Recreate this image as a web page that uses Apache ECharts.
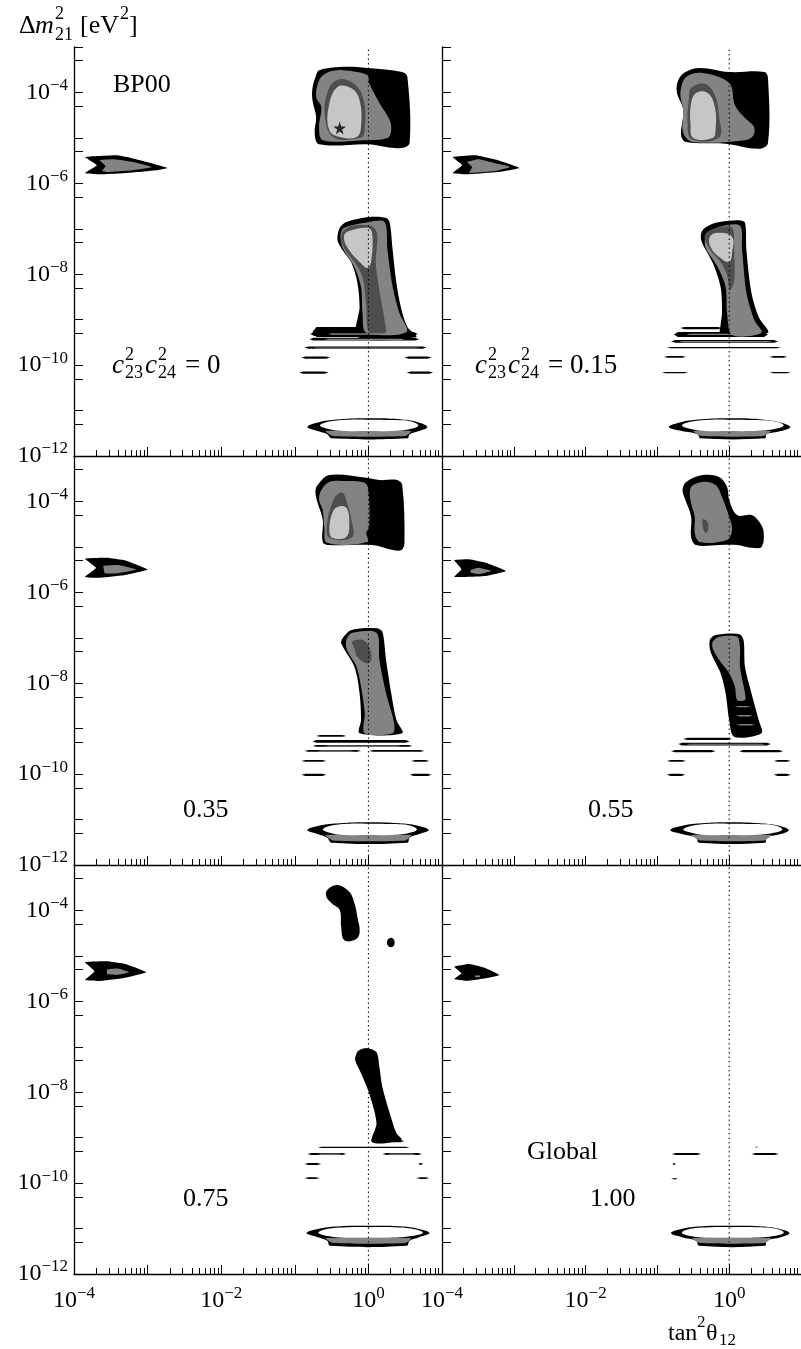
<!DOCTYPE html>
<html><head><meta charset="utf-8">
<script src="https://cdn.jsdelivr.net/npm/echarts@6/dist/echarts.min.js"></script>
<style>html,body{margin:0;padding:0;background:#fff}#c{width:801px;height:1349px}</style>
</head><body><div id="c"></div>
<script>
// ---------- axis ticks & labels (log10 units) ----------
const X_MAJOR_TICKS = [-4, -3, -2, -1, 0, 1];
const X_MINOR_MULT = [2, 3, 4, 5, 6, 7, 8, 9];
const X_DECADES = [-4, -3, -2, -1, 0];
const Y_DECADES = [-12, -11, -10, -9, -8, -7, -6, -5, -4];
const Y_TOP = -3;
const Y_LABELS = [-12, -10, -8, -6, -4];
const X_LABELS = [-4, -2, 0];
const PANEL_NOTES = ['0', '0.15', '0.35', '0.55', '0.75', '1.00'];

// ---------- contour data: [log10 tan^2(theta12), log10 dm^2] ----------
// Panel 1 : c23^2 c24^2 = 0 (BP00)
const p1_sma_k = [[-3.85,-5.42],[-3.42,-5.38],[-3.28,-5.42],[-3.01,-5.53],[-2.73,-5.66],[-2.88,-5.71],[-3.28,-5.77],[-3.65,-5.80],[-3.85,-5.77],[-3.69,-5.60]];
const p1_sma_g = [[-3.65,-5.49],[-3.45,-5.47],[-3.20,-5.53],[-2.94,-5.64],[-3.20,-5.71],[-3.56,-5.75],[-3.62,-5.73],[-3.57,-5.62]];
const p1_lma_k = [[-0.67,-3.51],[-0.39,-3.44],[-0.01,-3.46],[0.46,-3.55],[0.53,-3.66],[0.56,-5.11],[0.45,-5.22],[0.24,-5.20],[0.01,-5.14],[-0.67,-5.14],[-0.73,-4.89],[-0.71,-4.54],[-0.76,-4.17],[-0.76,-3.90],[-0.71,-3.62]];
const p1_lma_g = [[-0.57,-3.57],[-0.35,-3.51],[-0.01,-3.62],[0.01,-3.79],[0.15,-4.23],[0.29,-4.61],[0.31,-4.83],[0.26,-5.00],[-0.08,-5.05],[-0.62,-5.05],[-0.67,-4.76],[-0.64,-4.32],[-0.71,-4.10],[-0.67,-3.73]];
const p1_lma_d = [[-0.42,-3.72],[-0.22,-3.78],[-0.07,-4.12],[-0.05,-4.83],[-0.10,-4.99],[-0.47,-4.99],[-0.59,-4.54],[-0.55,-3.97]];
const p1_lma_l = [[-0.42,-3.88],[-0.23,-3.91],[-0.12,-4.17],[-0.10,-4.76],[-0.16,-4.98],[-0.39,-4.98],[-0.53,-4.83],[-0.54,-4.32]];
const p1_best = [[-0.39,-4.78]];
const p1_low_k = [[-0.39,-6.98],[-0.30,-6.85],[0.01,-6.74],[0.24,-6.76],[0.29,-6.87],[0.33,-7.47],[0.38,-8.19],[0.45,-8.79],[0.53,-9.16],[0.65,-9.38],[-0.15,-9.38],[-0.12,-8.72],[-0.15,-8.19],[-0.23,-7.75],[-0.35,-7.47],[-0.42,-7.25]];
const p1_low_g = [[-0.33,-6.98],[0.01,-6.85],[0.22,-6.85],[0.26,-7.47],[0.33,-8.28],[0.42,-8.85],[0.52,-9.27],[-0.03,-9.29],[-0.08,-8.85],[-0.10,-8.28],[-0.19,-7.84],[-0.35,-7.42],[-0.38,-7.14]];
const p1_low_d = [[-0.35,-7.07],[-0.23,-6.94],[0.04,-6.94],[0.12,-7.12],[0.10,-7.73],[0.15,-8.35],[0.22,-9.01],[0.23,-9.29],[0.01,-9.29],[-0.03,-8.68],[-0.07,-8.13],[-0.15,-7.82],[-0.31,-7.47],[-0.37,-7.25]];
const p1_low_l = [[-0.33,-7.14],[-0.23,-7.03],[-0.01,-6.98],[0.05,-7.09],[0.04,-7.69],[-0.01,-7.86],[-0.12,-7.73],[-0.29,-7.40]];
const p1_str_k = [[-0.76,-0.10,-9.16,-9.38],[-0.79,0.67,-9.27,-9.36],[-0.80,0.69,-9.40,-9.46],[-0.87,0.79,-9.59,-9.64],[-0.91,-0.52,-9.81,-9.86],[0.49,0.86,-9.81,-9.86],[-0.94,-0.54,-10.14,-10.19],[0.52,0.88,-10.14,-10.19]];
const p1_str_g = [[-0.55,0.45,-9.30,-9.33],[-0.60,0.50,-9.42,-9.44],[-0.75,0.70,-9.61,-9.62]];
const p1_vac_k = [[-0.83,-11.36],[-0.66,-11.25],[-0.39,-11.19],[-0.01,-11.17],[0.42,-11.19],[0.66,-11.25],[0.80,-11.36],[0.69,-11.45],[0.56,-11.52],[0.53,-11.61],[-0.50,-11.61],[-0.56,-11.52],[-0.69,-11.45]];
const p1_vac_g = [[-0.58,-11.45],[0.58,-11.45],[0.50,-11.56],[-0.48,-11.56]];
const p1_vac_w = [[-0.66,-11.33],[-0.53,-11.24],[-0.26,-11.20],[0.01,-11.20],[0.35,-11.21],[0.58,-11.24],[0.68,-11.33],[0.56,-11.41],[0.29,-11.45],[0.01,-11.45],[-0.33,-11.45],[-0.53,-11.41]];

// Panel 2 : c23^2 c24^2 = 0.15
const p2_sma_k = [[-3.85,-5.42],[-3.53,-5.38],[-3.22,-5.49],[-2.92,-5.66],[-3.22,-5.75],[-3.66,-5.80],[-3.85,-5.77],[-3.72,-5.60]];
const p2_sma_g = [[-3.65,-5.53],[-3.49,-5.47],[-3.22,-5.57],[-3.05,-5.64],[-3.26,-5.73],[-3.62,-5.77],[-3.58,-5.64]];
const p2_lma_k = [[-0.61,-3.55],[-0.41,-3.46],[0,-3.55],[0.49,-3.55],[0.54,-3.68],[0.54,-5.11],[0.41,-5.24],[-0.05,-5.13],[-0.60,-5.09],[-0.67,-4.94],[-0.64,-4.39],[-0.73,-3.99],[-0.71,-3.73]];
const p2_lma_g = [[-0.60,-3.66],[-0.37,-3.57],[0,-3.79],[0.08,-4.28],[0.22,-4.56],[0.34,-4.74],[0.34,-4.94],[0.22,-5.05],[-0.50,-5.09],[-0.64,-4.89],[-0.64,-4.39],[-0.68,-4.01]];
const p2_lma_d = [[-0.53,-3.90],[-0.34,-3.81],[-0.20,-4.06],[-0.14,-4.54],[-0.14,-4.99],[-0.52,-5.03],[-0.58,-4.67],[-0.56,-4.12]];
const p2_lma_l = [[-0.46,-4.01],[-0.30,-4.01],[-0.20,-4.32],[-0.19,-4.83],[-0.23,-5.00],[-0.50,-5.00],[-0.54,-4.67],[-0.53,-4.23]];
const p2_low_k = [[-0.37,-7.03],[-0.19,-6.87],[0.14,-6.81],[0.22,-6.87],[0.24,-7.47],[0.31,-8.41],[0.41,-8.94],[0.54,-9.29],[-0.12,-9.29],[-0.12,-9.12],[-0.10,-8.85],[-0.12,-8.28],[-0.23,-7.75],[-0.39,-7.25]];
const p2_low_g = [[-0.30,-7.07],[0.14,-6.92],[0.18,-7.47],[0.24,-8.41],[0.35,-9.01],[0.45,-9.29],[0.04,-9.34],[-0.03,-8.85],[-0.05,-8.28],[-0.16,-7.84],[-0.33,-7.40]];
const p2_low_d = [[-0.34,-7.14],[-0.16,-6.98],[0.04,-6.98],[0.07,-7.47],[0.07,-8.13],[0.01,-8.35],[-0.03,-8.02],[-0.12,-7.73],[-0.26,-7.47]];
const p2_low_l = [[-0.27,-7.18],[-0.16,-7.09],[0.04,-7.18],[0.04,-7.53],[0,-7.73],[-0.14,-7.62],[-0.26,-7.40]];
const p2_str_k = [[-0.68,-0.10,-9.16,-9.21],[-0.77,0.54,-9.27,-9.38],[-0.81,0.68,-9.45,-9.51],[-0.87,0.72,-9.60,-9.63],[-0.91,-0.60,-9.80,-9.84],[0.56,0.81,-9.80,-9.84],[-0.94,-0.57,-10.15,-10.18],[0.56,0.86,-10.15,-10.18]];
const p2_str_g = [[-0.60,0.40,-9.31,-9.34],[-0.70,0.60,-9.47,-9.49]];
const p2_vac_k = [[-0.84,-11.36],[-0.66,-11.25],[-0.39,-11.19],[0,-11.17],[0.42,-11.19],[0.68,-11.25],[0.85,-11.36],[0.72,-11.45],[0.52,-11.52],[0.50,-11.61],[-0.40,-11.61],[-0.44,-11.52],[-0.66,-11.45]];
const p2_vac_g = [[-0.50,-11.45],[0.58,-11.45],[0.47,-11.56],[-0.38,-11.56]];
const p2_vac_w = [[-0.66,-11.33],[-0.52,-11.24],[-0.25,-11.20],[0.02,-11.20],[0.38,-11.21],[0.64,-11.24],[0.76,-11.33],[0.62,-11.41],[0.30,-11.45],[0,-11.45],[-0.33,-11.45],[-0.52,-11.41]];

// Panel 3 : 0.35
const p3_sma_k = [[-3.85,-5.26],[-3.55,-5.24],[-3.30,-5.30],[-3.00,-5.50],[-3.30,-5.62],[-3.65,-5.68],[-3.85,-5.66],[-3.70,-5.46]];
const p3_sma_g = [[-3.60,-5.42],[-3.40,-5.40],[-3.15,-5.50],[-3.40,-5.58],[-3.58,-5.58]];
const p3_lma_k = [[-0.69,-3.64],[-0.53,-3.42],[-0.03,-3.48],[0.15,-3.53],[0.39,-3.53],[0.46,-3.64],[0.49,-4.91],[0.45,-5.07],[0.33,-5.07],[0.05,-4.96],[-0.53,-4.96],[-0.62,-4.89],[-0.62,-4.41],[-0.69,-4.03],[-0.72,-3.79]];
const p3_lma_g = [[-0.64,-3.75],[-0.53,-3.57],[-0.30,-3.55],[-0.05,-3.59],[0,-3.75],[0.01,-4.56],[-0.03,-4.69],[-0.01,-4.89],[-0.56,-4.91],[-0.60,-4.56],[-0.62,-4.19],[-0.67,-3.97]];
const p3_lma_d = [[-0.43,-3.86],[-0.35,-3.81],[-0.29,-4.03],[-0.23,-4.41],[-0.22,-4.78],[-0.53,-4.80],[-0.56,-4.47],[-0.49,-4.03]];
const p3_lma_l = [[-0.42,-4.12],[-0.30,-4.14],[-0.26,-4.47],[-0.30,-4.78],[-0.49,-4.80],[-0.53,-4.63],[-0.49,-4.25]];
const p3_low_k = [[-0.35,-7.01],[-0.23,-6.83],[0.11,-6.79],[0.19,-6.87],[0.24,-7.49],[0.31,-8.22],[0.38,-8.81],[0.46,-9.10],[-0.12,-9.10],[-0.10,-8.81],[-0.12,-8.22],[-0.19,-7.64],[-0.37,-7.12]];
const p3_low_g = [[-0.30,-7.05],[-0.22,-6.89],[0.11,-6.89],[0.15,-7.49],[0.24,-8.22],[0.35,-8.88],[0.33,-9.10],[-0.05,-9.10],[-0.05,-8.66],[-0.10,-8.08],[-0.16,-7.64],[-0.29,-7.27]];
const p3_low_d = [[-0.22,-7.09],[-0.08,-7.05],[0.01,-7.20],[0.04,-7.49],[-0.03,-7.56],[-0.15,-7.42],[-0.19,-7.23]];
const p3_str_k = [[-0.71,-0.30,-9.14,-9.18],[-0.76,0.56,-9.25,-9.31],[-0.76,0.60,-9.36,-9.40],[-0.87,-0.10,-9.47,-9.51],[0.01,0.76,-9.47,-9.51],[-0.91,-0.57,-9.69,-9.73],[0.58,0.83,-9.69,-9.73],[-0.91,-0.57,-9.99,-10.04],[0.56,0.86,-9.99,-10.04]];
const p3_str_g = [[-0.60,0.45,-9.37,-9.39],[-0.70,-0.20,-9.48,-9.50]];
const p3_vac_k = [[-0.83,-11.23],[-0.66,-11.13],[-0.39,-11.08],[-0.01,-11.06],[0.42,-11.08],[0.66,-11.13],[0.82,-11.23],[0.69,-11.32],[0.56,-11.40],[0.53,-11.51],[-0.50,-11.51],[-0.56,-11.40],[-0.69,-11.32]];
const p3_vac_g = [[-0.58,-11.34],[0.58,-11.34],[0.50,-11.46],[-0.48,-11.46]];
const p3_vac_w = [[-0.62,-11.22],[-0.50,-11.13],[-0.26,-11.09],[0.01,-11.09],[0.35,-11.10],[0.56,-11.13],[0.66,-11.22],[0.54,-11.30],[0.29,-11.34],[0.01,-11.34],[-0.33,-11.34],[-0.50,-11.30]];

// Panel 4 : 0.55
const p4_sma_k = [[-3.83,-5.29],[-3.62,-5.27],[-3.39,-5.35],[-3.11,-5.53],[-3.39,-5.64],[-3.66,-5.66],[-3.83,-5.66],[-3.73,-5.49]];
const p4_sma_g = [[-3.60,-5.51],[-3.49,-5.46],[-3.31,-5.53],[-3.49,-5.60],[-3.60,-5.57]];
const p4_lma_k = [[-0.60,-3.57],[-0.37,-3.42],[-0.14,-3.46],[-0.03,-3.68],[0,-3.97],[0.11,-4.30],[0.31,-4.30],[0.42,-4.45],[0.48,-4.67],[0.45,-5.00],[0.31,-5.02],[0.11,-4.96],[-0.14,-4.96],[-0.46,-4.96],[-0.53,-4.78],[-0.53,-4.34],[-0.61,-3.97],[-0.65,-3.75]];
const p4_lma_g = [[-0.53,-3.68],[-0.37,-3.57],[-0.19,-3.64],[-0.10,-3.90],[0,-4.34],[0.04,-4.63],[-0.03,-4.85],[-0.41,-4.89],[-0.48,-4.69],[-0.48,-4.34],[-0.54,-3.97]];
const p4_lma_d = [[-0.37,-4.40],[-0.31,-4.43],[-0.29,-4.58],[-0.32,-4.70],[-0.36,-4.62]];
const p4_low_k = [[-0.27,-7.05],[-0.19,-6.94],[0.14,-6.92],[0.20,-7.05],[0.22,-7.64],[0.31,-8.22],[0.41,-8.81],[0.45,-9.10],[0.07,-9.18],[0,-8.81],[-0.05,-8.22],[-0.12,-7.78],[-0.26,-7.31]];
const p4_low_g = [[-0.23,-7.09],[-0.14,-6.98],[0.11,-6.98],[0.15,-7.20],[0.15,-7.64],[0.22,-8.22],[0.22,-8.37],[0.11,-8.37],[0.08,-8.08],[0,-7.78],[-0.14,-7.49],[-0.23,-7.23]];
const p4_str_k = [[-0.64,0.04,-9.20,-9.25],[-0.71,0.58,-9.31,-9.37],[-0.81,-0.19,-9.47,-9.52],[0.14,0.75,-9.47,-9.52],[-0.87,-0.60,-9.69,-9.73],[0.62,0.86,-9.69,-9.73],[-0.87,-0.61,-9.99,-10.04],[0.62,0.86,-9.99,-10.04]];
const p4_str_g = [[0.07,0.30,-8.50,-8.53],[0.09,0.33,-8.70,-8.73],[0.10,0.36,-8.90,-8.93],[-0.60,0.50,-9.33,-9.35]];
const p4_vac_k = [[-0.82,-11.23],[-0.64,-11.13],[-0.38,-11.08],[0,-11.06],[0.42,-11.08],[0.68,-11.13],[0.83,-11.23],[0.72,-11.32],[0.52,-11.40],[0.50,-11.51],[-0.42,-11.51],[-0.46,-11.40],[-0.66,-11.32]];
const p4_vac_g = [[-0.52,-11.34],[0.58,-11.34],[0.49,-11.46],[-0.40,-11.46]];
const p4_vac_w = [[-0.64,-11.22],[-0.50,-11.13],[-0.25,-11.09],[0.02,-11.09],[0.38,-11.10],[0.64,-11.13],[0.74,-11.22],[0.60,-11.30],[0.30,-11.34],[0,-11.34],[-0.33,-11.34],[-0.50,-11.30]];

// Panel 5 : 0.75
const p5_sma_k = [[-3.85,-5.14],[-3.55,-5.12],[-3.30,-5.18],[-3.02,-5.36],[-3.30,-5.48],[-3.65,-5.55],[-3.85,-5.53],[-3.72,-5.34]];
const p5_sma_g = [[-3.55,-5.30],[-3.40,-5.28],[-3.25,-5.36],[-3.42,-5.42],[-3.55,-5.40]];
const p5_lma_k = [[-0.56,-3.55],[-0.42,-3.44],[-0.26,-3.59],[-0.19,-3.84],[-0.15,-4.14],[-0.12,-4.50],[-0.19,-4.65],[-0.33,-4.65],[-0.37,-4.36],[-0.39,-3.99],[-0.50,-3.84],[-0.57,-3.70]];
const p5_dot_k = [[0.31,-4.60],[0.35,-4.65],[0.35,-4.76],[0.31,-4.81],[0.26,-4.76],[0.26,-4.65]];
const p5_low_k = [[-0.12,-7.07],[-0.01,-7.03],[0.11,-7.12],[0.15,-7.45],[0.19,-7.89],[0.29,-8.46],[0.38,-8.90],[0.45,-9.05],[0.05,-9.10],[0.11,-8.68],[0.01,-8.02],[-0.10,-7.58],[-0.18,-7.29],[-0.16,-7.14]];
const p5_str_k = [[0.04,0.49,-9.05,-9.10],[-0.69,0.56,-9.20,-9.23],[-0.83,-0.30,-9.34,-9.38],[0.19,0.73,-9.34,-9.38],[-0.87,-0.64,-9.56,-9.60],[0.69,0.73,-9.56,-9.60],[-0.87,-0.66,-9.87,-9.91],[0.65,0.83,-9.87,-9.91]];
const p5_str_g = [[-0.70,-0.35,-9.35,-9.37],[0.25,0.65,-9.35,-9.37]];
const p5_vac_k = [[-0.84,-11.10],[-0.66,-11.00],[-0.39,-10.95],[0,-10.94],[0.42,-10.95],[0.66,-11.00],[0.83,-11.10],[0.69,-11.19],[0.56,-11.27],[0.52,-11.38],[-0.52,-11.38],[-0.56,-11.27],[-0.69,-11.19]];
const p5_vac_g = [[-0.58,-11.21],[0.58,-11.21],[0.50,-11.32],[-0.48,-11.32]];
const p5_vac_w = [[-0.68,-11.09],[-0.53,-11.00],[-0.26,-10.97],[0.01,-10.97],[0.35,-10.97],[0.58,-11.00],[0.74,-11.09],[0.56,-11.17],[0.29,-11.20],[0.01,-11.20],[-0.33,-11.20],[-0.53,-11.17]];

// Panel 6 : 1.00 (Global)
const p6_sma_k = [[-3.83,-5.24],[-3.62,-5.18],[-3.39,-5.27],[-3.20,-5.42],[-3.39,-5.49],[-3.66,-5.55],[-3.83,-5.51],[-3.73,-5.38]];
const p6_sma_g = [[-3.54,-5.43],[-3.47,-5.43],[-3.47,-5.47],[-3.54,-5.47]];
const p6_str_k = [[-0.80,-0.39,-9.34,-9.38],[0.31,0.69,-9.34,-9.38],[-0.80,-0.73,-9.56,-9.60],[-0.81,-0.71,-9.89,-9.92],[0.36,0.40,-9.20,-9.22]];
const p6_vac_k = [[-0.81,-11.10],[-0.64,-11.00],[-0.38,-10.95],[0,-10.94],[0.42,-10.95],[0.68,-11.00],[0.84,-11.10],[0.72,-11.19],[0.52,-11.27],[0.50,-11.38],[-0.42,-11.38],[-0.46,-11.27],[-0.66,-11.19]];
const p6_vac_g = [[-0.52,-11.21],[0.58,-11.21],[0.49,-11.32],[-0.40,-11.32]];
const p6_vac_w = [[-0.66,-11.09],[-0.52,-11.00],[-0.25,-10.97],[0.02,-10.97],[0.38,-10.97],[0.64,-11.00],[0.76,-11.09],[0.60,-11.17],[0.30,-11.20],[0,-11.20],[-0.33,-11.20],[-0.52,-11.17]];

// ---------- assembly ----------
const COLORS = { k: '#000000', g: '#838383', d: '#4e4e4e', l: '#c6c6c6', w: '#ffffff' };
// item: [level, kind ('p' polygon | 's' strips), data, smooth]
const PANELS = [
  [['k','p',p1_sma_k,0.1],['g','p',p1_sma_g,0.1],['k','p',p1_lma_k,0.35],['g','p',p1_lma_g,0.35],['d','p',p1_lma_d,0.4],['l','p',p1_lma_l,0.4],
   ['k','s',p1_str_k],['k','p',p1_low_k,0.3],['g','p',p1_low_g,0.3],['d','p',p1_low_d,0.3],['l','p',p1_low_l,0.4],['g','s',p1_str_g],
   ['k','p',p1_vac_k,0.4],['g','p',p1_vac_g,0.2],['w','p',p1_vac_w,0.4]],
  [['k','p',p2_sma_k,0.1],['g','p',p2_sma_g,0.1],['k','p',p2_lma_k,0.35],['g','p',p2_lma_g,0.35],['d','p',p2_lma_d,0.4],['l','p',p2_lma_l,0.4],
   ['k','s',p2_str_k],['k','p',p2_low_k,0.3],['g','p',p2_low_g,0.3],['d','p',p2_low_d,0.3],['l','p',p2_low_l,0.4],['g','s',p2_str_g],
   ['k','p',p2_vac_k,0.4],['g','p',p2_vac_g,0.2],['w','p',p2_vac_w,0.4]],
  [['k','p',p3_sma_k,0.1],['g','p',p3_sma_g,0.1],['k','p',p3_lma_k,0.35],['g','p',p3_lma_g,0.35],['d','p',p3_lma_d,0.4],['l','p',p3_lma_l,0.4],
   ['k','s',p3_str_k],['k','p',p3_low_k,0.3],['g','p',p3_low_g,0.3],['d','p',p3_low_d,0.4],['g','s',p3_str_g],
   ['k','p',p3_vac_k,0.4],['g','p',p3_vac_g,0.2],['w','p',p3_vac_w,0.4]],
  [['k','p',p4_sma_k,0.1],['g','p',p4_sma_g,0.1],['k','p',p4_lma_k,0.35],['g','p',p4_lma_g,0.35],['d','p',p4_lma_d,0.4],
   ['k','s',p4_str_k],['k','p',p4_low_k,0.3],['g','p',p4_low_g,0.3],['g','s',p4_str_g],
   ['k','p',p4_vac_k,0.4],['g','p',p4_vac_g,0.2],['w','p',p4_vac_w,0.4]],
  [['k','p',p5_sma_k,0.1],['g','p',p5_sma_g,0.1],['k','p',p5_lma_k,0.4],['k','p',p5_dot_k,0.4],
   ['k','s',p5_str_k],['k','p',p5_low_k,0.3],['g','s',p5_str_g],
   ['k','p',p5_vac_k,0.4],['g','p',p5_vac_g,0.2],['w','p',p5_vac_w,0.4]],
  [['k','p',p6_sma_k,0.1],['g','p',p6_sma_g,0],['k','s',p6_str_k],
   ['k','p',p6_vac_k,0.4],['g','p',p6_vac_g,0.2],['w','p',p6_vac_w,0.4]]
];

const FONT = '"Liberation Serif","DejaVu Serif",serif';
const GRID_POS = [[74,47],[442,47],[74,456],[442,456],[74,865],[442,865]];
const minorX = [];
X_DECADES.forEach(n => X_MINOR_MULT.forEach(k => minorX.push(n + Math.log10(k))));
const yTicks = [];
Y_DECADES.forEach(n => { yTicks.push(n); yTicks.push(n + Math.log10(5)); });
yTicks.push(Y_TOP);

function expLabel(v) {
  const e = Math.round(v);
  return '{b|10}{s|' + (e < 0 ? '\u2212' + (-e) : e) + '}';
}
const RICH = {
  b: { fontFamily: FONT, fontSize: 24, color: '#000' },
  s: { fontFamily: FONT, fontSize: 17, color: '#000', padding: [0, 0, 14, 0] }
};

const grid = [], xAxis = [], yAxis = [], series = [];
GRID_POS.forEach((p, gi) => {
  grid.push({ left: p[0], top: p[1], width: 368, height: 409, containLabel: false });
  const isLeft = gi % 2 === 0, isBottom = gi >= 4;
  xAxis.push({
    type: 'value', gridIndex: gi, min: -4, max: 1, position: 'bottom',
    axisLine: { show: true, onZero: false, lineStyle: { color: '#000', width: 1.3 } },
    axisTick: { show: true, inside: true, length: 9, customValues: X_MAJOR_TICKS, lineStyle: { color: '#000', width: 1 } },
    axisLabel: { show: isBottom, customValues: X_LABELS, margin: 11, formatter: expLabel, rich: RICH, showMinLabel: true },
    splitLine: { show: false }
  });
  xAxis.push({
    type: 'value', gridIndex: gi, min: -4, max: 1, position: 'bottom',
    axisLine: { show: false, onZero: false },
    axisTick: { show: true, inside: true, length: 6, customValues: minorX, lineStyle: { color: '#000', width: 1 } },
    axisLabel: { show: false }, splitLine: { show: false }
  });
  yAxis.push({
    type: 'value', gridIndex: gi, min: -12, max: -3, position: 'left',
    axisLine: { show: true, onZero: false, lineStyle: { color: '#000', width: 1.3 } },
    axisTick: { show: true, inside: true, length: 9, customValues: yTicks, lineStyle: { color: '#000', width: 1 } },
    axisLabel: { show: isLeft, customValues: Y_LABELS, margin: 6, formatter: expLabel, rich: RICH, showMinLabel: true, showMaxLabel: true },
    splitLine: { show: false }
  });

  const items = PANELS[gi];
  series.push({
    type: 'custom', coordinateSystem: 'cartesian2d', xAxisIndex: gi * 2, yAxisIndex: gi,
    silent: true, animation: false, clip: true, z: 2,
    data: items.map(it => it[1] === 'p' ? it[2][0] : [it[2][0][0], it[2][0][2]]),
    renderItem: function (params, api) {
      const it = items[params.dataIndex];
      const fill = COLORS[it[0]];
      if (it[1] === 'p') {
        return { type: 'polygon', shape: { points: it[2].map(q => api.coord(q)), smooth: it[3] || 0 }, style: { fill: fill } };
      }
      return {
        type: 'group', children: it[2].map(r => {
          const a = api.coord([r[0], r[2]]), b = api.coord([r[1], r[3]]);
          const h = Math.max(1.2, b[1] - a[1]);
          return { type: 'polygon', shape: { points: [[a[0], a[1] + h / 2], [a[0] + 4, a[1]], [b[0] - 4, a[1]], [b[0], a[1] + h / 2], [b[0] - 4, a[1] + h], [a[0] + 4, a[1] + h]] }, style: { fill: fill } };
        })
      };
    }
  });
  // dotted line at tan^2 = 1
  series.push({
    type: 'line', xAxisIndex: gi * 2, yAxisIndex: gi, data: [[0, -12], [0, -3]],
    symbol: 'none', silent: true, animation: false, z: 5,
    lineStyle: { color: '#000', width: 1, type: [1.5, 3] }
  });
});
// best-fit star
series.push({
  type: 'scatter', xAxisIndex: 0, yAxisIndex: 0, data: p1_best, z: 6, silent: true, animation: false,
  symbol: 'path://M50,0 L61,35 L98,35 L68,57 L79,91 L50,70 L21,91 L32,57 L2,35 L39,35 Z',
  symbolSize: 13, itemStyle: { color: '#000' }
});

function T(x, y, text, size, italic, align) {
  return { type: 'text', x: x, y: y, silent: true, z: 10,
    style: { text: text, fill: '#000', font: (italic ? 'italic ' : '') + size + 'px ' + FONT, textAlign: align || 'left', textVerticalAlign: 'middle' } };
}
function cLabel(x, y, tail) {
  return [T(x, y, 'c', 27, true), T(x + 13, y - 11, '2', 18), T(x + 13, y + 7, '23', 18),
          T(x + 33, y, 'c', 27, true), T(x + 46, y - 11, '2', 18), T(x + 46, y + 7, '24', 18),
          T(x + 73, y, '= ' + tail, 27)];
}
const graphic = [
  T(19, 26, '\u0394', 26), T(35, 26, 'm', 26, true), T(55, 14, '2', 18), T(55, 35, '21', 18),
  T(80, 26, '[eV', 26), T(120, 14, '2', 18), T(129, 26, ']', 26),
  T(113, 85, 'BP00', 26),
  ...cLabel(112, 366, PANEL_NOTES[0]),
  ...cLabel(475, 366, PANEL_NOTES[1]),
  T(183, 810, PANEL_NOTES[2], 26), T(588, 810, PANEL_NOTES[3], 26),
  T(527, 1152, 'Global', 26),
  T(183, 1199, PANEL_NOTES[4], 26), T(590, 1199, PANEL_NOTES[5], 26),
  T(668, 1334, 'tan', 24), T(697, 1323, '2', 17), T(706, 1334, '\u03b8', 24), T(719, 1341, '12', 17)
];

const chart = echarts.init(document.getElementById('c'), null, { renderer: 'canvas' });
chart.setOption({ animation: false, backgroundColor: '#fff', grid, xAxis, yAxis, series, graphic });
</script></body></html>
